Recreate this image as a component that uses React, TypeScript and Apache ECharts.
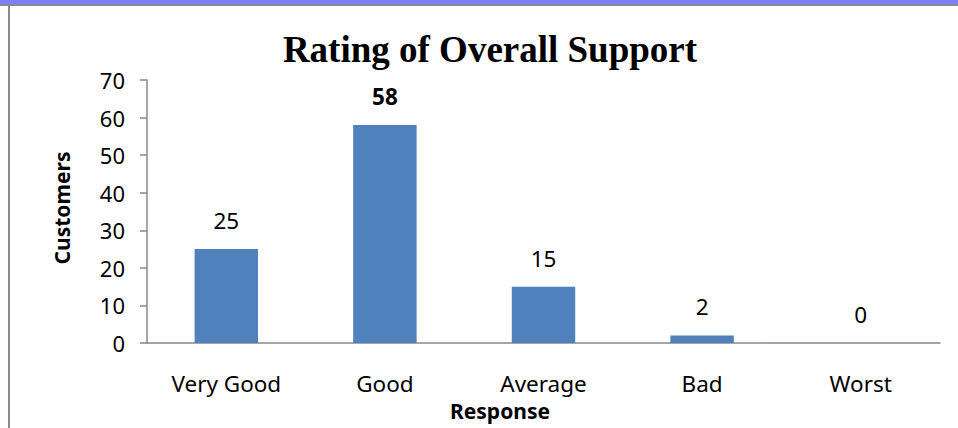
import React, { useEffect, useRef } from "react";
import * as echarts from "echarts";

const categories = ["Very Good", "Good", "Average", "Bad", "Worst"];
const customers = [25, 58, 15, 2, 0];
const boldIndex = [1];
const yTicks = [0, 10, 20, 30, 40, 50, 60, 70];

export default function App() {
  const ref = useRef<HTMLDivElement>(null);
  useEffect(() => {
    const chart = echarts.init(ref.current!, null, { renderer: "svg" });
    const font = "'Noto Sans', sans-serif";
    chart.setOption({
      animation: false,
      backgroundColor: "#ffffff",
      grid: { left: 147, right: 18, top: 80, bottom: 85 },
      xAxis: {
        type: "category",
        data: categories,
        axisLine: { lineStyle: { color: "#888888", width: 1.5 } },
        axisTick: { show: false },
        axisLabel: { color: "#000", fontSize: 22.5, fontFamily: font, margin: 29 },
      },
      yAxis: {
        type: "value",
        min: yTicks[0],
        max: yTicks[yTicks.length - 1],
        interval: 10,
        axisLine: { show: true, lineStyle: { color: "#888888", width: 1.5 } },
        axisTick: { show: true, length: 7, lineStyle: { color: "#888888", width: 1.5 } },
        splitLine: { show: false },
        axisLabel: { color: "#000", fontSize: 22, fontFamily: font, margin: 22 },
      },
      series: [
        {
          type: "bar",
          barWidth: "40%",
          itemStyle: { color: "#4f81bd" },
          data: customers.map((v, i) => ({
            value: v,
            label: boldIndex.includes(i) ? { fontWeight: "bold" } : undefined,
          })),
          label: {
            show: true,
            position: "top",
            distance: 17,
            color: "#000",
            fontSize: 22.5,
            fontFamily: font,
          },
        },
      ],
      graphic: [
        { type: "rect", shape: { x: 0, y: 0, width: 958, height: 4 }, style: { fill: "#7b80f7" } },
        { type: "rect", shape: { x: 0, y: 4, width: 958, height: 2 }, style: { fill: "#8a8a8a" } },
        { type: "rect", shape: { x: 8, y: 4, width: 2, height: 424 }, style: { fill: "#8a8a8a" } },
        {
          type: "text",
          x: 490,
          y: 49,
          style: {
            text: "Rating of Overall Support",
            font: "bold 37px 'Liberation Serif', serif",
            fill: "#000",
            textAlign: "center",
            textVerticalAlign: "middle",
          },
        },
        {
          type: "text",
          x: 500,
          y: 411,
          style: {
            text: "Response",
            font: "bold 21px " + font,
            fill: "#000",
            textAlign: "center",
            textVerticalAlign: "middle",
          },
        },
        {
          type: "text",
          x: 62,
          y: 208,
          rotation: Math.PI / 2,
          style: {
            text: "Customers",
            font: "bold 21px " + font,
            fill: "#000",
            textAlign: "center",
            textVerticalAlign: "middle",
          },
        },
      ],
    });
    return () => chart.dispose();
  }, []);
  return (
    <div
      ref={ref}
      style={{ position: "fixed", left: 0, top: 0, width: 958, height: 428 }}
    />
  );
}
